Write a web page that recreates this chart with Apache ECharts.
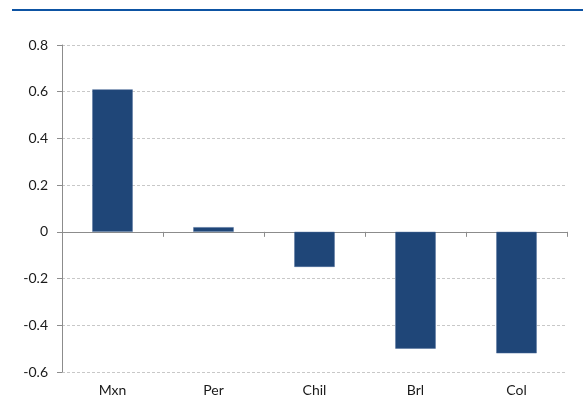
<!DOCTYPE html>
<html>
<head>
<meta charset="utf-8">
<script src="https://cdn.jsdelivr.net/npm/echarts@6/dist/echarts.min.js"></script>
<style>html,body{margin:0;padding:0;background:#fff;}#c{width:583px;height:416px;}</style>
</head>
<body>
<div id="c"></div>
<script>
const categories = ['Mxn', 'Per', 'Chil', 'Brl', 'Col'];
const values = [0.61, 0.02, -0.15, -0.50, -0.52];
const yMin = -0.6, yMax = 0.8, yStep = 0.2;

const chart = echarts.init(document.getElementById('c'), null, {renderer: 'canvas'});
const font = "Lato, 'Open Sans', 'Liberation Sans', sans-serif";
chart.setOption({
  animation: false,
  backgroundColor: '#fff',
  graphic: [{
    type: 'rect', left: 12, top: 9,
    shape: {width: 571, height: 2},
    style: {fill: '#0d53a3'}
  }],
  grid: {left: 62, right: 16, top: 45, bottom: 44, containLabel: false},
  xAxis: [{
    type: 'category', data: categories,
    axisLine: {onZero: true, lineStyle: {color: '#8c8c8c', width: 1}},
    axisTick: {show: true, inside: false, length: 5, lineStyle: {color: '#8c8c8c'}},
    axisLabel: {show: false}
  }, {
    type: 'category', data: categories, position: 'bottom',
    axisLine: {show: false, onZero: false}, axisTick: {show: false},
    axisLabel: {show: true, margin: 11, color: '#1a1a1a', fontSize: 14, fontFamily: font}
  }],
  yAxis: {
    type: 'value', min: yMin, max: yMax, interval: yStep,
    axisLine: {show: true, lineStyle: {color: '#8c8c8c'}},
    axisTick: {show: true, length: 5, lineStyle: {color: '#8c8c8c'}},
    splitLine: {show: true, lineStyle: {color: '#c8c8c8', type: [3, 2], width: 1}},
    axisLabel: {
      margin: 14, color: '#1a1a1a', fontSize: 14, fontFamily: font,
      formatter: v => { const r = Math.round(v * 10) / 10; return r === 0 ? '0' : String(r); }
    }
  },
  series: [{
    type: 'bar', data: values, xAxisIndex: 0,
    barWidth: '40%',
    itemStyle: {color: '#1f4678', borderColor: '#4a6b98', borderWidth: 0.5}
  }]
});
</script>
</body>
</html>
